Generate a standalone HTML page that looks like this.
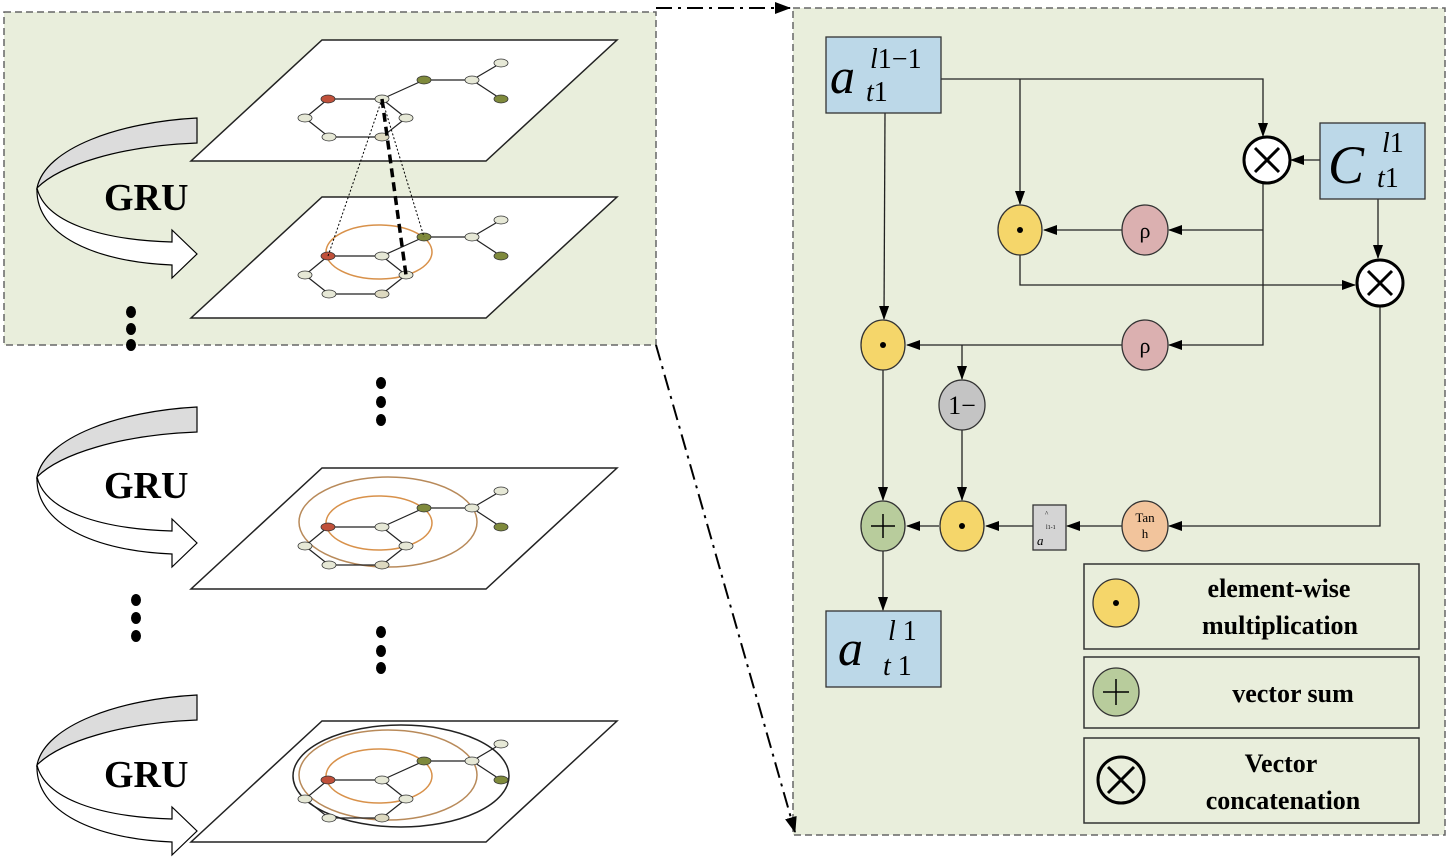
<!DOCTYPE html>
<html><head><meta charset="utf-8"><style>
html,body{margin:0;padding:0;background:#fff}
svg{display:block}
text{font-family:"Liberation Serif",serif}
</style></head><body>
<svg width="1450" height="859" viewBox="0 0 1450 859" xmlns="http://www.w3.org/2000/svg">
<defs>
<marker id="ah" markerWidth="14" markerHeight="10" refX="13" refY="5" orient="auto" markerUnits="userSpaceOnUse"><path d="M0,0 L14,5 L0,10 Z" fill="#000"/></marker>
<marker id="ah2" markerWidth="16" markerHeight="12" refX="15" refY="6" orient="auto" markerUnits="userSpaceOnUse"><path d="M0,0 L16,6 L0,12 Z" fill="#000"/></marker>
<g id="arrow">
<path d="M197,118 C120,122 45,148 37,188 C60,165 120,146 197,143 Z" fill="#dcdcdc" stroke="#000" stroke-width="1.2"/>
<path d="M37,188 C45,222 100,240 172,242 L172,230 L197,254 L172,278 L172,265 C95,262 35,235 37,188 Z" fill="#fff" stroke="#000" stroke-width="1.2"/>
</g>
<g id="graph">
<g stroke="#222" stroke-width="1.2">
<line x1="328" y1="59" x2="382" y2="59"/><line x1="382" y1="59" x2="424" y2="40"/><line x1="424" y1="40" x2="472" y2="40"/>
<line x1="472" y1="40" x2="501" y2="23"/><line x1="472" y1="40" x2="501" y2="59"/>
<line x1="328" y1="59" x2="305" y2="78"/><line x1="305" y1="78" x2="329" y2="97"/><line x1="329" y1="97" x2="382" y2="97"/>
<line x1="382" y1="97" x2="406" y2="78"/><line x1="406" y1="78" x2="382" y2="59"/>
</g>
<g stroke="#333" stroke-width="0.8">
<ellipse cx="328" cy="59" rx="7" ry="4" fill="#c0503a"/>
<ellipse cx="382" cy="59" rx="7" ry="4" fill="#e6e8d6"/>
<ellipse cx="424" cy="40" rx="7" ry="4" fill="#7f8a3c"/>
<ellipse cx="472" cy="40" rx="7" ry="4" fill="#e6e8d6"/>
<ellipse cx="501" cy="23" rx="7" ry="4" fill="#e6e8d6"/>
<ellipse cx="501" cy="59" rx="7" ry="4" fill="#7f8a3c"/>
<ellipse cx="305" cy="78" rx="7" ry="4" fill="#e6e8d6"/>
<ellipse cx="406" cy="78" rx="7" ry="4" fill="#e6e8d6"/>
<ellipse cx="329" cy="97" rx="7" ry="4" fill="#e6e8d6"/>
<ellipse cx="382" cy="97" rx="7" ry="4" fill="#ddd9c0"/>
</g>
</g>
<g id="plane"><path d="M322,0 L617,0 L486,121 L191,121 Z" fill="#fff" stroke="#222" stroke-width="1.5"/></g>
</defs>

<rect x="4" y="12" width="652" height="333" fill="#e9eedc" stroke="#666" stroke-width="1.5" stroke-dasharray="7,4"/>
<rect x="793" y="8" width="652" height="827" fill="#e9eedc" stroke="#666" stroke-width="1.5" stroke-dasharray="7,4"/>

<line x1="656" y1="8" x2="790" y2="8" stroke="#000" stroke-width="2" stroke-dasharray="16,6,3,6" marker-end="url(#ah2)"/>
<line x1="656" y1="345" x2="795" y2="832" stroke="#000" stroke-width="2" stroke-dasharray="16,6,3,6" marker-end="url(#ah2)"/>

<use href="#arrow"/>
<use href="#arrow" transform="translate(0,289)"/>
<use href="#arrow" transform="translate(0,577)"/>
<g font-weight="bold" font-size="38" fill="#000">
<text x="104" y="210">GRU</text><text x="104" y="498">GRU</text><text x="104" y="787">GRU</text>
</g>

<use href="#plane" transform="translate(0,40)"/>
<use href="#graph" transform="translate(0,40)"/>
<use href="#plane" transform="translate(0,197)"/>
<ellipse cx="379" cy="252" rx="53" ry="27" fill="none" stroke="#d8914a" stroke-width="1.5"/>
<use href="#graph" transform="translate(0,197)"/>
<line x1="382" y1="99" x2="328" y2="256" stroke="#000" stroke-width="1" stroke-dasharray="2,2"/>
<line x1="382" y1="99" x2="424" y2="237" stroke="#000" stroke-width="1" stroke-dasharray="2,2"/>
<line x1="382" y1="99" x2="406" y2="275" stroke="#000" stroke-width="3.5" stroke-dasharray="9,5"/>

<use href="#plane" transform="translate(0,468)"/>
<ellipse cx="388" cy="522" rx="89" ry="45" fill="none" stroke="#b88a5a" stroke-width="1.5"/>
<ellipse cx="379" cy="523" rx="53" ry="27" fill="none" stroke="#d8914a" stroke-width="1.5"/>
<use href="#graph" transform="translate(0,468)"/>

<use href="#plane" transform="translate(0,721)"/>
<ellipse cx="401" cy="776" rx="108" ry="51" fill="none" stroke="#222" stroke-width="1.5"/>
<ellipse cx="388" cy="775" rx="89" ry="45" fill="none" stroke="#b88a5a" stroke-width="1.5"/>
<ellipse cx="379" cy="776" rx="53" ry="27" fill="none" stroke="#d8914a" stroke-width="1.5"/>
<use href="#graph" transform="translate(0,721)"/>

<g fill="#000">
<ellipse cx="131" cy="312" rx="5" ry="6"/><ellipse cx="131" cy="329" rx="5" ry="6"/><ellipse cx="131" cy="345" rx="5" ry="6"/>
<ellipse cx="381" cy="383" rx="5" ry="6"/><ellipse cx="381" cy="402" rx="5" ry="6"/><ellipse cx="381" cy="420" rx="5" ry="6"/>
<ellipse cx="136" cy="600" rx="5" ry="6"/><ellipse cx="136" cy="618" rx="5" ry="6"/><ellipse cx="136" cy="636" rx="5" ry="6"/>
<ellipse cx="381" cy="632" rx="5" ry="6"/><ellipse cx="381" cy="651" rx="5" ry="6"/><ellipse cx="381" cy="668" rx="5" ry="6"/>
</g>

<g stroke="#222" stroke-width="1.3" fill="none">
<polyline points="941,79 1263,79 1263,136" marker-end="url(#ah)"/>
<polyline points="1020,79 1020,204" marker-end="url(#ah)"/>
<polyline points="885,113 884,319" marker-end="url(#ah)"/>
<polyline points="1320,160 1291,160" marker-end="url(#ah)"/>
<polyline points="1378,199 1378,258" marker-end="url(#ah)"/>
<polyline points="1263,183 1263,345 1169,345" marker-end="url(#ah)"/>
<polyline points="1263,230 1169,230" marker-end="url(#ah)"/>
<polyline points="1122,230 1044,230" marker-end="url(#ah)"/>
<polyline points="1020,255 1020,285 1355,285" marker-end="url(#ah)"/>
<polyline points="1122,345 907,345" marker-end="url(#ah)"/>
<polyline points="962,345 962,379" marker-end="url(#ah)"/>
<polyline points="1380,307 1380,526 1169,526" marker-end="url(#ah)"/>
<polyline points="1122,526 1067,526" marker-end="url(#ah)"/>
<polyline points="1033,526 986,526" marker-end="url(#ah)"/>
<polyline points="939,526 907,526" marker-end="url(#ah)"/>
<polyline points="962,430 962,500" marker-end="url(#ah)"/>
<polyline points="883,370 883,500" marker-end="url(#ah)"/>
<polyline points="883,551 883,610" marker-end="url(#ah)"/>
</g>

<rect x="826" y="37" width="115" height="76" fill="#bcd8e8" stroke="#333" stroke-width="1.3"/>
<text x="830" y="93" font-size="50" font-style="italic">a</text>
<text x="870" y="68" font-size="28"><tspan font-style="italic">l</tspan>1−1</text>
<text x="866" y="101" font-size="28"><tspan font-style="italic">t</tspan>1</text>

<rect x="1320" y="123" width="105" height="76" fill="#bcd8e8" stroke="#333" stroke-width="1.3"/>
<text x="1328" y="183" font-size="54" font-style="italic">C</text>
<text x="1382" y="152" font-size="28"><tspan font-style="italic">l</tspan>1</text>
<text x="1377" y="187" font-size="28"><tspan font-style="italic">t</tspan>1</text>

<rect x="826" y="611" width="115" height="76" fill="#bcd8e8" stroke="#333" stroke-width="1.3"/>
<text x="838" y="665" font-size="50" font-style="italic">a</text>
<text x="888" y="640" font-size="28"><tspan font-style="italic">l</tspan> 1</text>
<text x="883" y="675" font-size="28"><tspan font-style="italic">t</tspan> 1</text>

<g stroke="#333" stroke-width="1.3">
<ellipse cx="1020" cy="230" rx="22" ry="25" fill="#f5d66a"/>
<ellipse cx="883" cy="345" rx="22" ry="25" fill="#f5d66a"/>
<ellipse cx="962" cy="526" rx="22" ry="25" fill="#f5d66a"/>
<ellipse cx="1145" cy="230" rx="23" ry="25" fill="#dbb0b0"/>
<ellipse cx="1145" cy="345" rx="23" ry="25" fill="#dbb0b0"/>
<ellipse cx="962" cy="405" rx="23" ry="25" fill="#c4c4c4"/>
<ellipse cx="883" cy="526" rx="22" ry="25" fill="#b8cc9c"/>
<ellipse cx="1145" cy="526" rx="23" ry="25" fill="#f2c49c"/>
<rect x="1033" y="505" width="33" height="45" fill="#d4d4d4"/>
</g>
<g fill="#000">
<circle cx="1020" cy="230" r="3"/><circle cx="883" cy="345" r="3"/><circle cx="962" cy="526" r="3"/>
</g>
<g stroke="#000" stroke-width="1.5">
<line x1="871" y1="526" x2="895" y2="526"/><line x1="883" y1="514" x2="883" y2="538"/>
</g>
<g stroke="#000" stroke-width="3" fill="#fff">
<circle cx="1267" cy="160" r="23"/><circle cx="1380" cy="283" r="23"/>
</g>
<g stroke="#000" stroke-width="3">
<line x1="1255" y1="148" x2="1279" y2="172"/><line x1="1279" y1="148" x2="1255" y2="172"/>
<line x1="1368" y1="271" x2="1392" y2="295"/><line x1="1392" y1="271" x2="1368" y2="295"/>
</g>
<text x="1145" y="238" font-size="22" text-anchor="middle">ρ</text>
<text x="1145" y="353" font-size="22" text-anchor="middle">ρ</text>
<text x="962" y="414" font-size="26" text-anchor="middle">1−</text>
<text x="1145" y="522" font-size="13" text-anchor="middle">Tan</text>
<text x="1145" y="538" font-size="13" text-anchor="middle">h</text>
<text x="1037" y="545" font-size="13" font-style="italic">a</text>
<text x="1046" y="529" font-size="6">l1-1</text>
<text x="1045" y="516" font-size="7">^</text>

<g fill="none" stroke="#333" stroke-width="1.5">
<rect x="1084" y="564" width="335" height="85"/>
<rect x="1084" y="657" width="335" height="71"/>
<rect x="1084" y="738" width="335" height="85"/>
</g>
<ellipse cx="1116" cy="603" rx="23" ry="24" fill="#f5d66a" stroke="#333" stroke-width="1.3"/>
<circle cx="1116" cy="603" r="3" fill="#000"/>
<ellipse cx="1116" cy="692" rx="23" ry="24" fill="#b8cc9c" stroke="#333" stroke-width="1.3"/>
<g stroke="#000" stroke-width="1.5"><line x1="1103" y1="692" x2="1129" y2="692"/><line x1="1116" y1="679" x2="1116" y2="705"/></g>
<circle cx="1121" cy="780" r="23" fill="none" stroke="#000" stroke-width="3"/>
<g stroke="#000" stroke-width="3"><line x1="1108" y1="767" x2="1134" y2="793"/><line x1="1134" y1="767" x2="1108" y2="793"/></g>
<g font-weight="bold" font-size="26" text-anchor="middle" fill="#000">
<text x="1279" y="597">element-wise</text>
<text x="1280" y="634">multiplication</text>
<text x="1293" y="702">vector sum</text>
<text x="1281" y="772">Vector</text>
<text x="1283" y="809">concatenation</text>
</g>
</svg>
</body></html>
